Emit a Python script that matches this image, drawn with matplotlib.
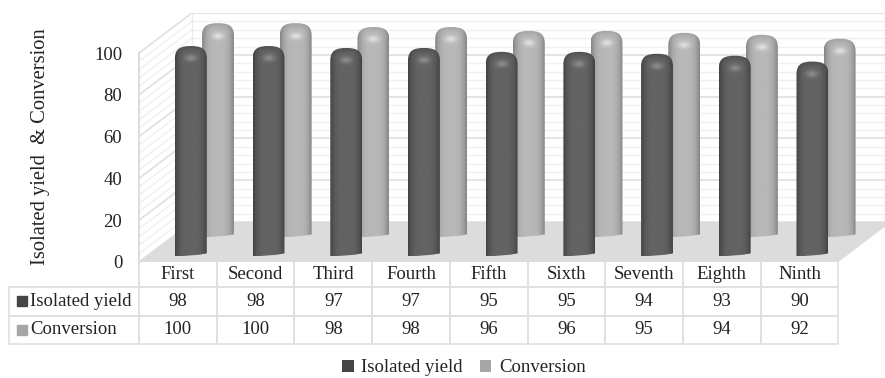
#!/usr/bin/env python
"""Pseudo-3D cylinder chart with data table: isolated yield and conversion per run."""
import numpy as np
import matplotlib
matplotlib.use("Agg")
import matplotlib.pyplot as plt
from matplotlib.path import Path
from matplotlib.patches import PathPatch, Polygon, Patch
from matplotlib.table import Table

plt.rcParams["font.family"] = ["Liberation Serif", "DejaVu Serif"]

runs = ["First", "Second", "Third", "Fourth", "Fifth", "Sixth", "Seventh", "Eighth", "Ninth"]
isolated_yield = [98, 98, 97, 97, 95, 95, 94, 93, 90]
conversion = [100, 100, 98, 98, 96, 96, 95, 94, 92]
y_ticks = [0, 20, 40, 60, 80, 100]
minor_ticks = [v for v in range(0, 101, 4)]

W, H = 885, 378
DEPTH_X, DEPTH_Y = 0.68, 19.1  # wall offset, in data units
GRID = "#e2e2e2"
TXT = "#222222"
FS = 13.5

fig = plt.figure(figsize=(W / 100, H / 100), dpi=100)
ax = fig.add_axes([139 / W, 1 - 262 / H, 746 / W, 249 / H])
ax.set_xlim(0, 746 / 77.7)
ax.set_ylim(0, 249 / 2.09)
for s in ax.spines.values():
    s.set_visible(False)
ax.set_xticks([])
ax.set_yticks(y_ticks)
ax.tick_params(axis="y", length=0, pad=12, labelsize=FS, labelcolor=TXT)
ax.patch.set_visible(False)


def cylinder(xc, base, value, tone_edge, tone_mid, zorder):
    """One rounded cylinder: gradient image clipped to the bar outline."""
    hw = 0.205
    top = base + 0.93 * value + 9.3
    sh = 6.0  # shoulder height of the dome
    x0, x1 = xc - hw, xc + hw
    verts = [(x0, base), (xc, base - 0.3), (x1, base + 1.2), (x1, top - sh),
             (x1, top - 1), (xc + hw * 0.6, top), (xc, top), (xc - hw * 0.6, top),
             (x0, top - 1), (x0, top - sh), (x0, base)]
    codes = [Path.MOVETO, Path.CURVE3, Path.CURVE3, Path.LINETO,
             Path.CURVE4, Path.CURVE4, Path.CURVE4, Path.CURVE4, Path.CURVE4, Path.CURVE4,
             Path.CLOSEPOLY]
    patch = PathPatch(Path(verts, codes), fc="none", ec="none", transform=ax.transData, zorder=zorder)
    ax.add_patch(patch)
    u = np.linspace(-1, 1, 48)
    v = np.linspace(top + 0.5, base - 1, 300)
    prof = tone_mid + (tone_edge - tone_mid) * np.abs(u) ** 3.5
    img = np.tile(prof, (len(v), 1))
    vv, uu = np.meshgrid(v, u, indexing="ij")
    # dark rim across the top, then a small bright spot under it
    rim = np.exp(-((vv - top) / 2.0) ** 2)
    img = img - rim * 0.07
    spot = np.exp(-((vv - (top - 6.0)) / 1.6) ** 2 - (uu / 0.36) ** 2)
    img = img + spot * 0.16
    im = ax.imshow(img, extent=[x0, x1, base - 1, top + 0.5], aspect="auto", cmap="gray",
                   vmin=0, vmax=1, zorder=zorder, interpolation="bilinear")
    im.set_clip_box(None)
    im.set_clip_path(patch)


xmax = ax.get_xlim()[1]

# back wall and left wall
for v in minor_ticks:
    major = v in y_ticks
    col = GRID if major else "#f0f0f0"
    lw = 1.3 if major else 1.0
    ax.plot([DEPTH_X, xmax], [v + DEPTH_Y, v + DEPTH_Y], color=col, lw=lw, zorder=1)
    ax.plot([0, DEPTH_X], [v, v + DEPTH_Y], color=col, lw=lw, zorder=1)
ax.plot([0, 0], [0, 100], color="#d8d8d8", lw=1.2, zorder=2, clip_on=False)
ax.plot([DEPTH_X, DEPTH_X], [DEPTH_Y, 100 + DEPTH_Y], color="#ececec", lw=1.0, zorder=1)

# floor
ax.add_patch(Polygon([(0, 0), (9, 0), (9 + DEPTH_X, DEPTH_Y), (DEPTH_X, DEPTH_Y)],
                     fc="#dcdcdc", ec="none", zorder=2))

# cylinders
for i, (a, b) in enumerate(zip(isolated_yield, conversion)):
    cylinder(i + 1.017, 12.0, b, 0.52, 0.72, 3)
    cylinder(i + 0.667, 2.9, a, 0.26, 0.39, 4)

ax.set_ylabel("Isolated yield  & Conversion", fontsize=14.8, color=TXT)
ax.yaxis.set_label_coords(-89 / 746, 0.465)

# data table under the plot
col_w = 77.7 / 746
label_w = 130 / 746
heights = [25 / 249, 29 / 249, 28 / 249]
tb = Table(ax, bbox=[-label_w, -sum(heights), label_w + 9 * col_w, sum(heights)])
tb.auto_set_font_size(False)
rows = [["", *runs],
        ["Isolated yield", *[str(v) for v in isolated_yield]],
        ["Conversion", *[str(v) for v in conversion]]]
for r, row in enumerate(rows):
    for c, val in enumerate(row):
        cell = tb.add_cell(r, c, label_w if c == 0 else col_w, heights[r], text=val,
                           loc="left" if c == 0 else "center", edgecolor="#e0e0e0", facecolor="none",
                           fontproperties={"size": FS})
        cell.get_text().set_color(TXT)
        cell.get_text().set_fontsize(FS)
        cell.set_linewidth(1.2)
        if c == 0:
            cell.PAD = 0.16
        if r == 0:
            cell.visible_edges = "BR" if c == 0 else "LRB"
ax.add_table(tb)

# legend keys inside the table
ax.plot([-1.506], [-18.7], marker="s", ms=6.5, color="#454545", clip_on=False, zorder=6)
ax.plot([-1.506], [-32.5], marker="s", ms=6.5, color="#a6a6a6", clip_on=False, zorder=6)

fig.legend(handles=[Patch(fc="#454545", label="Isolated yield"), Patch(fc="#a6a6a6", label="Conversion")],
           loc="center", bbox_to_anchor=(464 / W, 1 - 368 / H), ncol=2, frameon=False, fontsize=FS,
           handlelength=0.62, handleheight=0.62, handletextpad=0.4, columnspacing=0.9, labelcolor=TXT)

fig.savefig("out.png", dpi=100)
